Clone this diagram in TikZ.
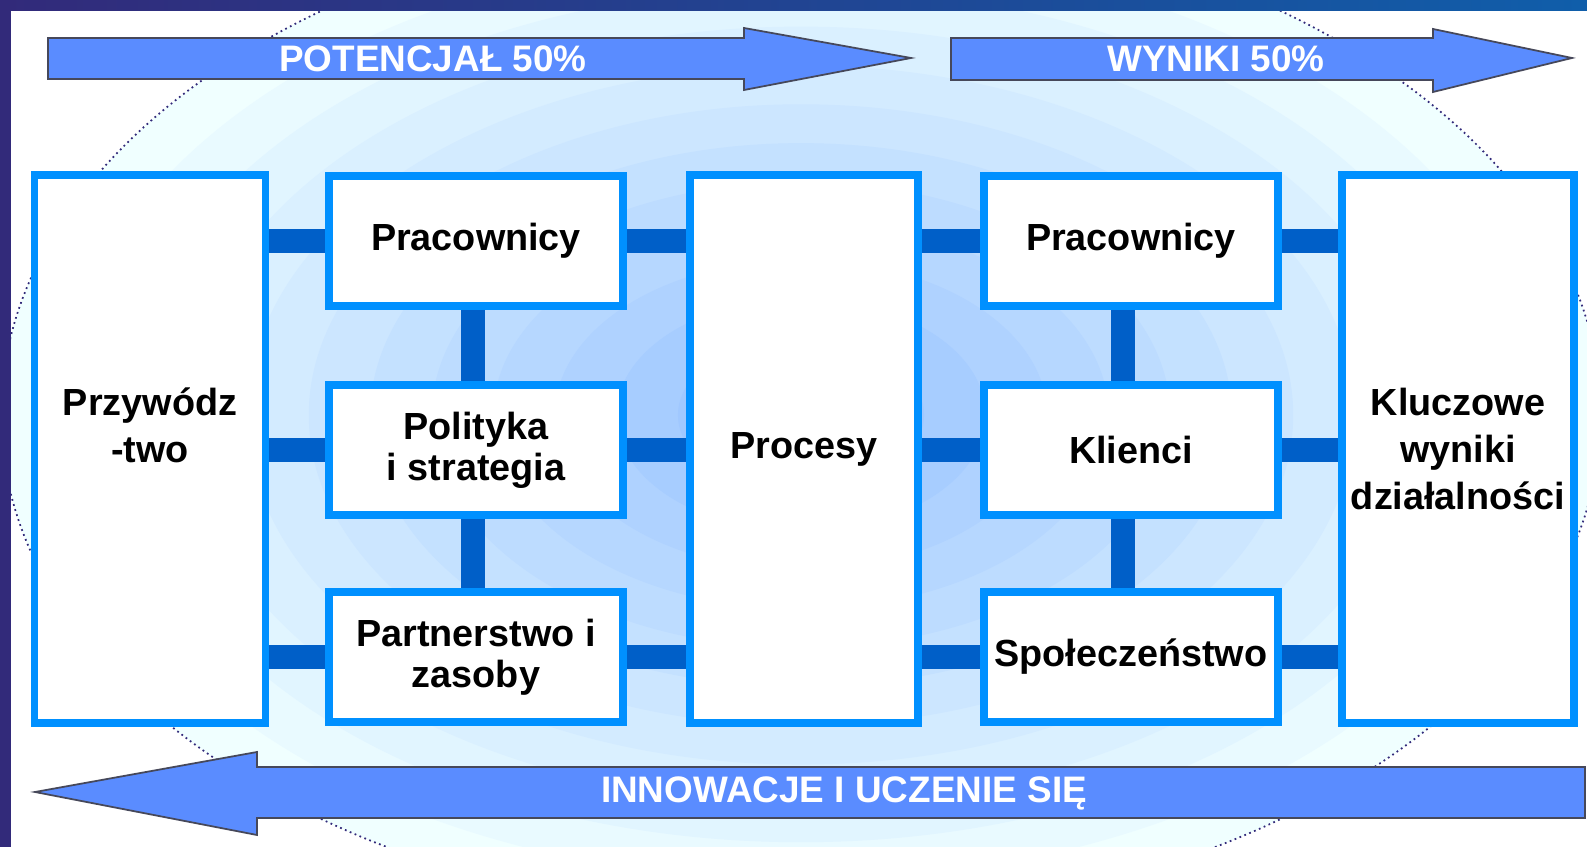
\documentclass[tikz,border=0pt]{standalone}
\usepackage{fontspec}
\setmainfont{Liberation Sans}
\usetikzlibrary{arrows.meta, calc}
\definecolor{myframe}{RGB}{50,42,122}
\definecolor{myframeb}{RGB}{16,94,170}
\definecolor{myborder}{RGB}{0,144,255}
\definecolor{mylink}{RGB}{0,95,200}
\definecolor{myarrow}{RGB}{90,140,255}
\definecolor{myedge}{RGB}{70,72,90}
\definecolor{bgout}{RGB}{240,255,255}
\definecolor{bgin}{RGB}{160,200,255}
\tikzstyle{box} = [draw=myborder, line width=4.5pt, fill=white,
    inner sep=2pt, align=center]
\tikzstyle{tallbox} = [box, minimum height=10.96cm,
    font=\fontsize{21.5}{27}\selectfont\bfseries]
\tikzstyle{midbox} = [box, minimum width=5.88cm, minimum height=2.6cm,
    font=\fontsize{21.5}{23.5}\selectfont\bfseries]
\tikzstyle{link} = [draw=mylink, line width=13.7pt]
\tikzstyle{banner} = [fill=myarrow, draw=myedge, line width=1pt]
\tikzstyle{bannertext} = [text=white, font=\fontsize{21}{24}\selectfont\bfseries]

\begin{document}
\begin{tikzpicture}[x=0.02cm, y=-0.02cm]

% background with the soft ellipse
\fill[white] (0,0) rectangle (1587,847);
\begin{scope}
\clip (0,0) rectangle (1587,847);
\foreach \k in {0,...,11}{
    \pgfmathsetmacro{\p}{\k*100/11}
    \fill[bgin!\p!bgout] (801,415) ellipse ({16cm*(1-\k/13)} and {10.1cm*(1-\k/13)});
}
\draw[myframe, dotted, line width=1pt] (801,415) ellipse (16cm and 10.1cm);
\end{scope}

% frame on top and left
\shade[left color=myframe, right color=myframeb] (0,0) rectangle (1587,11);
\fill[myframe] (0,0) rectangle (11,847);

%%% ARROWS
\draw[banner] (48,38) -- (744,38) -- (744,28) -- (911,58) -- (744,90) -- (744,79) -- (48,79) -- cycle;
\node[bannertext] (pot) at (433,59) {POTENCJAŁ 50\%};

\draw[banner] (951,38) -- (1433,38) -- (1433,29) -- (1572,58) -- (1433,92) -- (1433,80) -- (951,80) -- cycle;
\node[bannertext] (wyn) at (1216,59) {WYNIKI 50\%};

\draw[banner] (1585,767) -- (257,767) -- (257,752) -- (35,792) -- (257,835) -- (257,818) -- (1585,818) -- cycle;
\node[bannertext] (inn) at (844,793) {INNOWACJE I UCZENIE SIĘ};

%%% BOXES
\node[tallbox, minimum width=4.62cm] (lead) at (150,449) {Przywódz\\-two\\~};

\node[midbox] (emp1) at (476,241) {Pracownicy};
\node[midbox] (pol) at (476,450) {Polityka\\i strategia};
\node[midbox] (part) at (476,657) {Partnerstwo i\\zasoby};

\node[tallbox, minimum width=4.56cm] (proc) at (804,449) {Procesy};

\node[midbox] (emp2) at (1131,241) {Pracownicy};
\node[midbox] (cli) at (1131,450) {Klienci};
\node[midbox] (soc) at (1131,657) {Społeczeństwo};

\node[tallbox, minimum width=4.64cm] (res) at (1458,449) {Kluczowe\\wyniki\\działalności};

%%% LINKS
\foreach \b in {emp1, pol, part}{
    \draw[link] (\b.west -| lead.east) -- (\b.west);
    \draw[link] (\b.east) -- (\b.east -| proc.west);
}
\foreach \b in {emp2, cli, soc}{
    \draw[link] (\b.west -| proc.east) -- (\b.west);
    \draw[link] (\b.east) -- (\b.east -| res.west);
}
\draw[link] ([xshift=-0.06cm]emp1.south) -- ([xshift=-0.06cm]pol.north);
\draw[link] ([xshift=-0.06cm]pol.south) -- ([xshift=-0.06cm]part.north);
\draw[link] ([xshift=-0.16cm]emp2.south) -- ([xshift=-0.16cm]cli.north);
\draw[link] ([xshift=-0.16cm]cli.south) -- ([xshift=-0.16cm]soc.north);

\end{tikzpicture}
\end{document}
